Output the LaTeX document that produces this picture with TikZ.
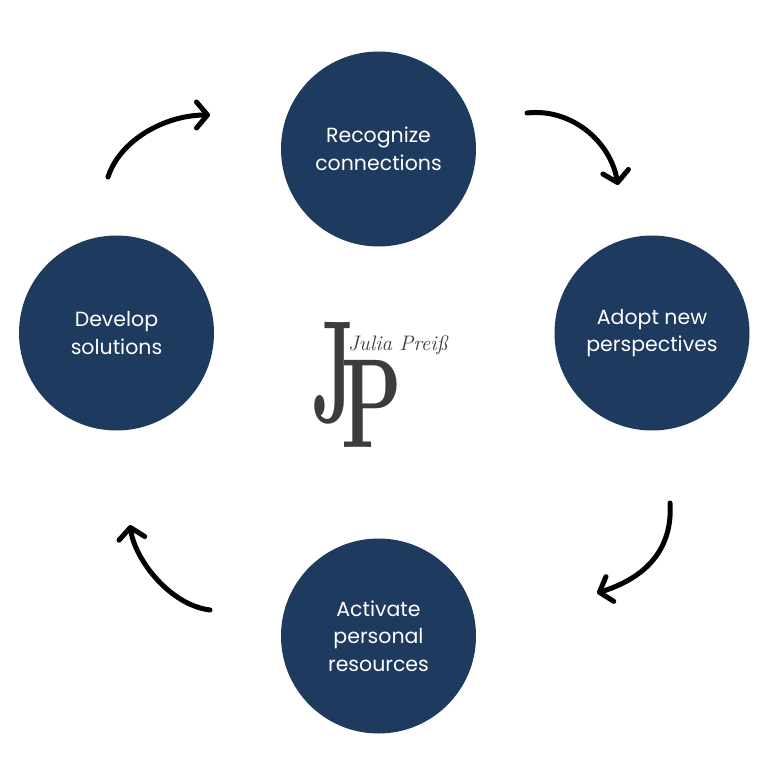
\documentclass[tikz,border=0pt]{standalone}
\usepackage{fontspec}
\setsansfont{Poppins}
\usetikzlibrary{arrows.meta}
\definecolor{navy}{RGB}{31,58,95}
\definecolor{logogray}{RGB}{60,60,60}

\begin{document}
\begin{tikzpicture}[x=1pt, y=-1pt,
    stage/.style={circle, fill=navy, minimum size=195pt, inner sep=0pt, text=white, align=center, font=\sffamily\fontsize{20.5}{27.5}\selectfont},
    cyclearrow/.style={line width=5pt, line cap=round, -{Straight Barb[length=11pt,width=26pt,round]}},
    logo/.style={inner sep=0pt, text=logogray, transform shape}
]
    \fill[white] (0,0) rectangle (768,768);

    % the four stages
    \node[stage] (recognize) at (378.5,149) {Recognize\\connections};
    \node[stage] (adopt) at (652,333) {Adopt new\\perspectives};
    \node[stage] (activate) at (378.5,636) {Activate\\personal\\resources};
    \node[stage] (develop) at (116.5,333) {Develop\\solutions};

    % logo in the middle
    \node[logo, anchor=base west, xscale=0.5] (jletter) at (312,422) {\fontsize{146}{146}\selectfont\bfseries J};
    \node[logo, anchor=base west, xscale=0.62] (pletter) at (341,447) {\fontsize{127}{127}\selectfont\bfseries P};
    \node[logo, anchor=base west] (signature) at (348,350) {\fontsize{21}{21}\selectfont\itshape Julia Preiß};

    % arrows between the stages
    \coordinate (a1) at (108,177);
    \coordinate (b1) at (210,115);
    \coordinate (a2) at (527,113);
    \coordinate (b2) at (618,185);
    \coordinate (a3) at (670,503);
    \coordinate (b3) at (597,593);
    \coordinate (a4) at (210,610);
    \coordinate (b4) at (130,525);
    \draw[cyclearrow] (a1) .. controls (120,140) and (165,115) .. (b1);
    \draw[cyclearrow] (a2) .. controls (570,108) and (610,140) .. (b2);
    \draw[cyclearrow] (a3) .. controls (673,550) and (645,578) .. (b3);
    \draw[cyclearrow] (a4) .. controls (170,605) and (135,560) .. (b4);
\end{tikzpicture}
\end{document}
